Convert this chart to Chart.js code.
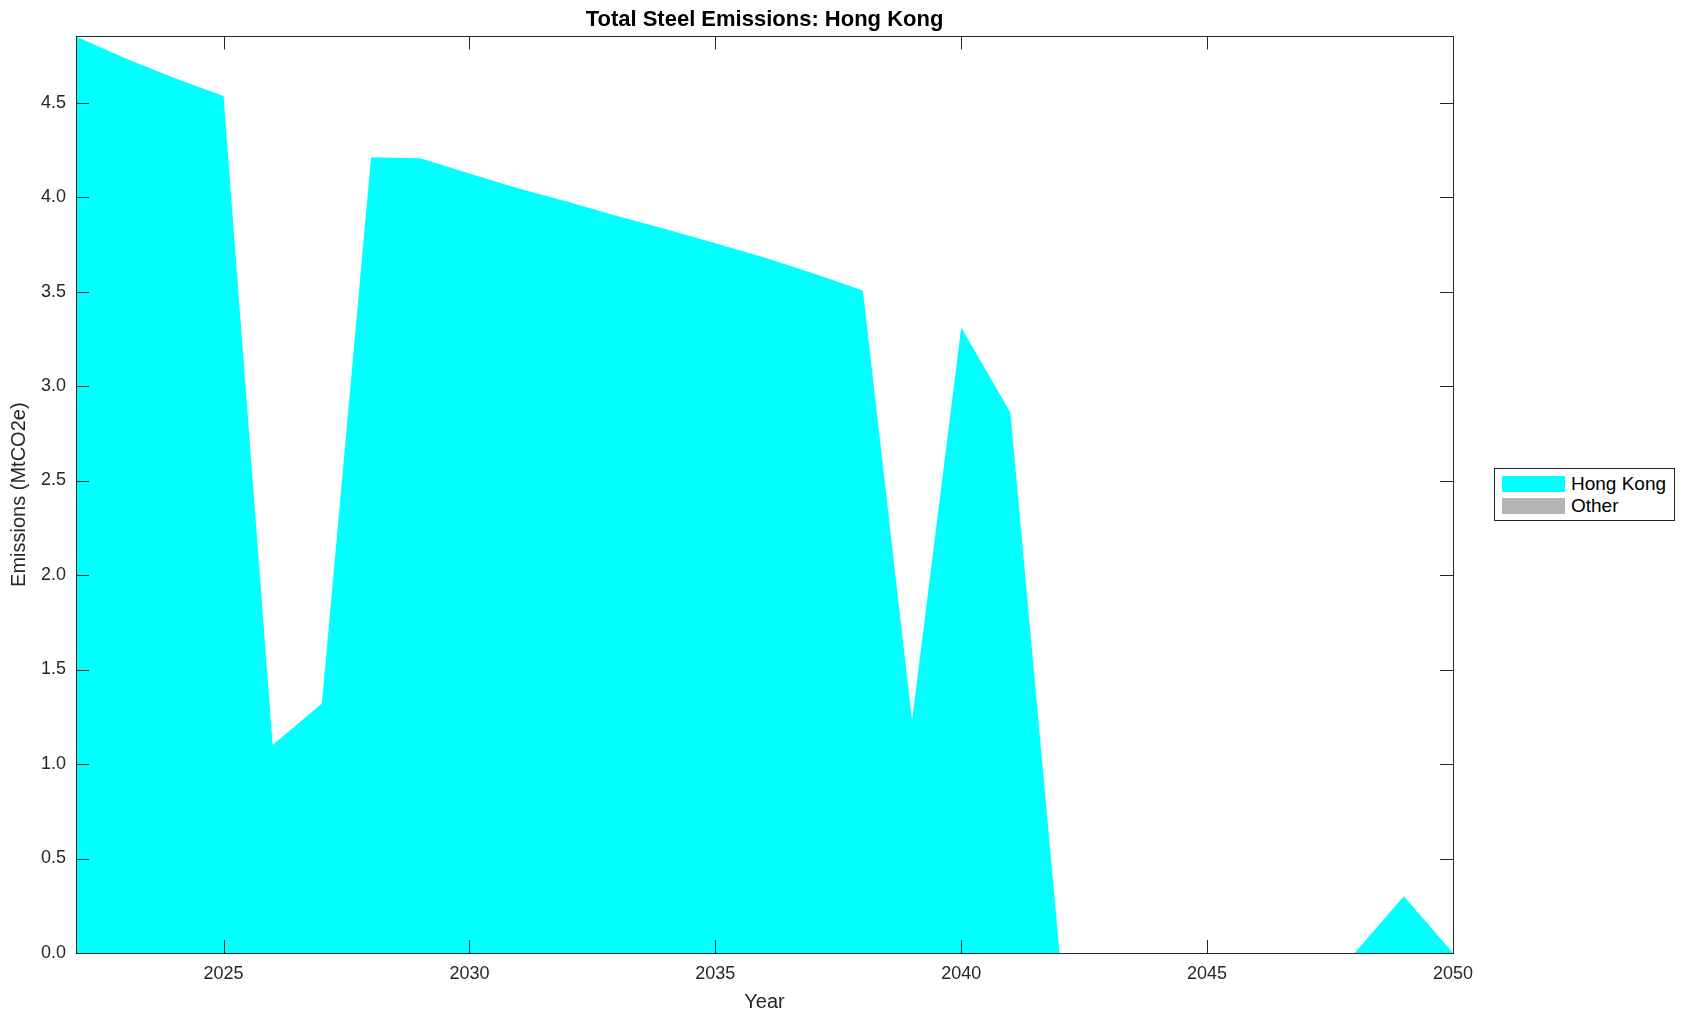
<!DOCTYPE html>
<html>
<head>
<meta charset="utf-8">
<script src="https://cdn.jsdelivr.net/npm/chart.js@4.4.0/dist/chart.umd.min.js"></script>
<style>
  html, body { margin: 0; padding: 0; background: #fff; }
  #wrap { position: relative; width: 1685px; height: 1021px; }
  #legend {
    position: absolute; left: 1494px; top: 468px; width: 181px; height: 53px;
    border: 1px solid #262626; background: #fff; box-sizing: border-box;
    font-family: "Liberation Sans", Arial, Helvetica, sans-serif; font-size: 19px; color: #000;
  }
  .item { position: absolute; left: 7px; height: 18px; display: flex; align-items: center; }
  .swatch { width: 63px; height: 16px; margin-right: 6px; }
</style>
</head>
<body>
<div id="wrap">
  <canvas id="emissionsChart" width="1685" height="1021"></canvas>
  <div id="legend"></div>
</div>
<script>
const years = [];
for (let y = 2022; y <= 2050; y++) years.push(y);

const hongKong = [4.85, 4.735, 4.63, 4.535, 1.10, 1.32, 4.21, 4.205, 4.125, 4.045,
  3.975, 3.90, 3.83, 3.755, 3.68, 3.595, 3.505, 1.23, 3.31, 2.86,
  0, 0, 0, 0, 0, 0, 0, 0.30, 0];
const other = years.map(() => 0);

const seriesNames = ["Hong Kong", "Other"];
const seriesColors = ["#00ffff", "#b3b3b3"];

const xTicks = [2025, 2030, 2035, 2040, 2045, 2050];
const yTicks = [0, 0.5, 1, 1.5, 2, 2.5, 3, 3.5, 4, 4.5];

const font = '"Liberation Sans", Arial, Helvetica, sans-serif';
const axisColor = "#262626";

// matlab style box with ticks pointing inwards
const frame = {
  id: "frame",
  afterDatasetsDraw(chart) {
    const { ctx, chartArea: a, scales } = chart;
    const len = 13;
    ctx.save();
    ctx.strokeStyle = axisColor;
    ctx.lineWidth = 1;
    ctx.beginPath();
    xTicks.forEach(t => {
      const x = Math.round(scales.x.getPixelForValue(t)) + 0.5;
      ctx.moveTo(x, a.bottom); ctx.lineTo(x, a.bottom - len);
      ctx.moveTo(x, a.top); ctx.lineTo(x, a.top + len);
    });
    yTicks.forEach(t => {
      const y = Math.round(scales.y.getPixelForValue(t)) + 0.5;
      ctx.moveTo(a.left, y); ctx.lineTo(a.left + len, y);
      ctx.moveTo(a.right, y); ctx.lineTo(a.right - len, y);
    });
    ctx.stroke();
    ctx.strokeRect(Math.round(a.left) + 0.5, Math.round(a.top) + 0.5,
      Math.round(a.right - a.left), Math.round(a.bottom - a.top));
    ctx.restore();
  }
};

new Chart(document.getElementById("emissionsChart"), {
  type: "line",
  data: {
    labels: years,
    datasets: [
      {
        label: seriesNames[0],
        data: years.map((y, i) => ({ x: y, y: hongKong[i] })),
        backgroundColor: seriesColors[0],
        borderWidth: 0,
        pointRadius: 0,
        fill: "origin",
        tension: 0,
      },
      {
        label: seriesNames[1],
        data: years.map((y, i) => ({ x: y, y: other[i] })),
        backgroundColor: seriesColors[1],
        borderWidth: 0,
        pointRadius: 0,
        fill: "-1",
        tension: 0,
      },
    ],
  },
  options: {
    responsive: false,
    animation: false,
    layout: { padding: { left: 0, right: 232, top: 0, bottom: 0 } },
    plugins: {
      legend: { display: false },
      tooltip: { enabled: false },
      title: {
        display: true,
        text: "Total Steel Emissions: Hong Kong",
        fullSize: false,
        color: "#000",
        font: { family: font, size: 22, weight: "bold" },
        padding: { top: 7, bottom: 3 },
      },
    },
    scales: {
      x: {
        type: "linear",
        min: 2022,
        max: 2050,
        grid: { display: false, drawTicks: false },
        border: { display: false },
        afterBuildTicks: s => { s.ticks = xTicks.map(v => ({ value: v })); },
        afterFit: s => { s.height = 68; },
        ticks: {
          color: axisColor, padding: 10, maxRotation: 0,
          font: { family: font, size: 18 },
          callback: v => String(v),
        },
        title: {
          display: true, text: "Year", color: axisColor,
          font: { family: font, size: 20 },
          padding: { top: 0, bottom: 7 },
        },
      },
      y: {
        stacked: true,
        min: 0,
        max: Math.max(...hongKong),
        grid: { display: false, drawTicks: false },
        border: { display: false },
        afterBuildTicks: s => { s.ticks = yTicks.map(v => ({ value: v })); },
        afterFit: s => { s.width = 76; },
        ticks: {
          color: axisColor, padding: 10,
          font: { family: font, size: 18 },
          callback: v => Number(v).toFixed(1),
        },
        title: {
          display: true, text: "Emissions (MtCO2e)", color: axisColor,
          font: { family: font, size: 20 },
          padding: { top: 7, bottom: 0 },
        },
      },
    },
  },
  plugins: [frame],
});

const legend = document.getElementById("legend");
seriesNames.forEach((name, i) => {
  const item = document.createElement("div");
  item.className = "item";
  item.style.top = (6 + i * 22) + "px";
  item.innerHTML = '<span class="swatch" style="background:' + seriesColors[i] + '"></span>' + name;
  legend.appendChild(item);
});
</script>
</body>
</html>
